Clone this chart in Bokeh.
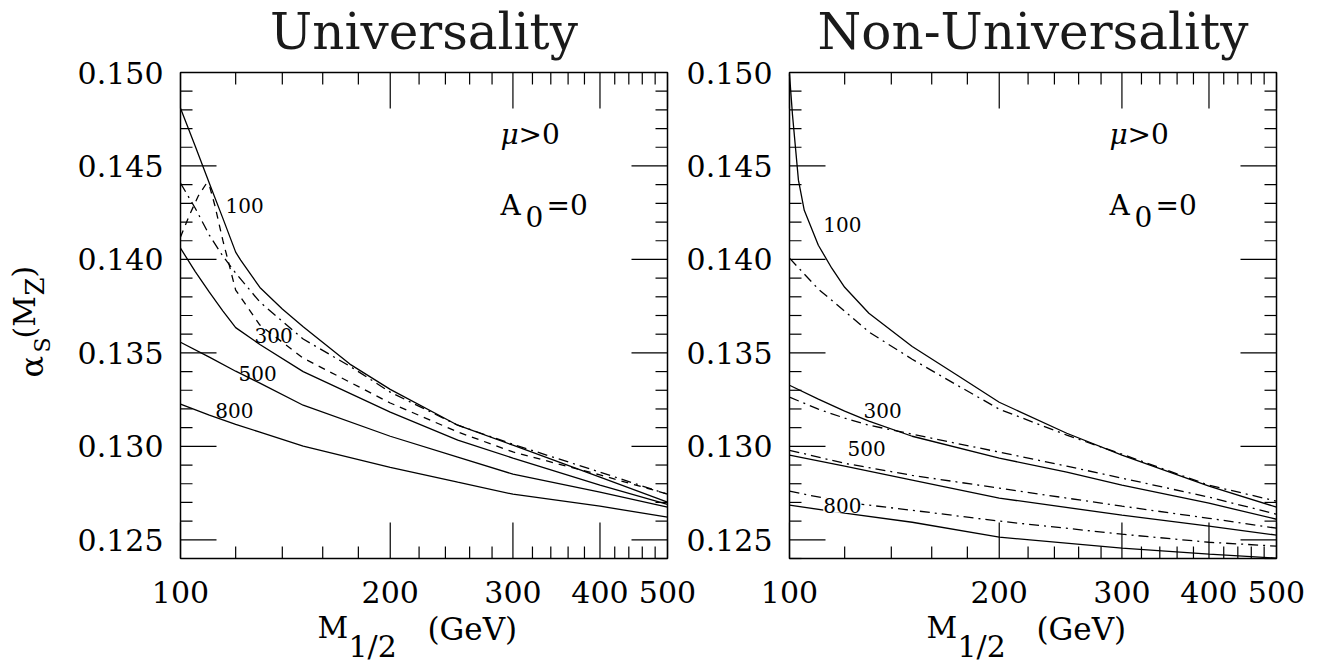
from math import pi
from bokeh.plotting import figure
from bokeh.models import Range1d, LogScale, Label
from bokeh.core.properties import value
from bokeh.embed import file_html
from bokeh.resources import INLINE

FONT = "DejaVu Serif"

# ---------------- axes: ticks and tick labels ----------------
X_MAJOR = [100, 200, 300, 400, 500]
X_LABELS = ["100", "200", "300", "400", "500"]
X_MINOR = [120, 140, 160, 180, 220, 240, 260, 280, 320, 340, 360, 380, 420, 440, 460, 480]
Y_MAJOR = [0.125, 0.130, 0.135, 0.140, 0.145, 0.150]
Y_LABELS = ["0.125", "0.130", "0.135", "0.140", "0.145", "0.150"]
Y_MINOR = [0.124, 0.126, 0.127, 0.128, 0.129, 0.131, 0.132, 0.133, 0.134,
           0.136, 0.137, 0.138, 0.139, 0.141, 0.142, 0.143, 0.144,
           0.146, 0.147, 0.148, 0.149]
X_LIM = (100, 500)
Y_LIM = (0.124, 0.150)

# ---------------- Universality (left) ----------------
u_x_100 = [100, 105, 110, 115, 120, 122, 130, 140, 150, 175, 200, 250, 300, 400, 500]
u_solid_100 = [0.14809, 0.14606, 0.14408, 0.14221, 0.14039, 0.13996, 0.13850, 0.13735,
               0.13640, 0.13440, 0.13305, 0.13113, 0.13006, 0.12835, 0.12702]
u_x_300 = [100, 105, 110, 115, 120, 130, 150, 200, 250, 300, 400, 500]
u_solid_300 = [0.14060, 0.13935, 0.13825, 0.13725, 0.13635, 0.13545, 0.13400, 0.13183,
               0.13033, 0.12937, 0.12792, 0.12690]
u_x = [100, 110, 120, 130, 150, 200, 250, 300, 400, 500]
u_solid_500 = [0.13557, 0.13477, 0.13402, 0.13338, 0.13220, 0.13054, 0.12942, 0.12851, 0.12755, 0.12675]
u_solid_800 = [0.13226, 0.13167, 0.13118, 0.13076, 0.13001, 0.12888, 0.12808, 0.12744, 0.12680, 0.12621]
u_x_dash = [100, 103, 106, 109, 110, 112, 115, 120, 130, 150, 200, 250, 300, 400, 500]
u_dash_100 = [0.14120, 0.14237, 0.14338, 0.14408, 0.14397, 0.14290, 0.14103, 0.13836,
              0.13649, 0.13472, 0.13232, 0.13077, 0.12970, 0.12847, 0.12745]
u_x_dd = [100, 105, 110, 115, 120, 130, 150, 175, 200, 250, 300, 400, 500]
u_dashdot_100 = [0.14408, 0.14274, 0.14130, 0.14018, 0.13927, 0.13772, 0.13574, 0.13429,
                 0.13290, 0.13113, 0.13011, 0.12862, 0.12744]

# ---------------- Non-Universality (right) ----------------
n_x_100 = [100, 101, 103, 105, 110, 115, 120, 130, 150, 175, 200, 250, 300, 400, 500]
n_solid_100 = [0.14990, 0.14772, 0.14424, 0.14263, 0.14076, 0.13953, 0.13851, 0.13712,
               0.13534, 0.13375, 0.13236, 0.13070, 0.12953, 0.12787, 0.12675]
n_x_dd100 = [100, 110, 120, 130, 150, 175, 200, 250, 300, 400, 500]
n_dashdot_100 = [0.14007, 0.13841, 0.13723, 0.13612, 0.13466, 0.13322, 0.13199, 0.13060,
                 0.12958, 0.12792, 0.12707]
n_x_300 = [100, 110, 120, 130, 150, 200, 250, 300, 400, 500]
n_solid_300 = [0.13327, 0.13253, 0.13188, 0.13135, 0.13054, 0.12937, 0.12862, 0.12792, 0.12696, 0.12610]
n_dashdot_300 = [0.13263, 0.13199, 0.13151, 0.13113, 0.13065, 0.12969, 0.12894, 0.12830, 0.12728, 0.12637]
n_x = [100, 120, 150, 200, 300, 400, 500]
n_solid_500 = [0.12953, 0.12894, 0.12819, 0.12723, 0.12632, 0.12573, 0.12525]
n_dashdot_500 = [0.12979, 0.12909, 0.12845, 0.12776, 0.12680, 0.12615, 0.12562]
n_solid_800 = [0.12685, 0.12643, 0.12594, 0.12514, 0.12455, 0.12423, 0.12402]
n_dashdot_800 = [0.12760, 0.12701, 0.12658, 0.12600, 0.12530, 0.12487, 0.12466]

# curve labels (m0 values) placed beside curves: (text, x, y)
u_labels = [("100", 123.6, 0.1429), ("300", 136.0, 0.13595), ("500", 129.0, 0.13391), ("800", 119.5, 0.13193)]
n_labels = [("100", 119.1, 0.14188), ("300", 136.0, 0.13193), ("500", 129.0, 0.1299), ("800", 119.1, 0.12685)]

# ---------------- layout (pixels) ----------------
W, H = 1320, 669
FRAME_W, FRAME_H = 487, 486
LEFT_X0, RIGHT_X0, TOP_Y = 180, 789, 72
PX_PER_DEC = FRAME_W / 0.69897          # 100..500 spans log10(5) decades
PX_PER_Y = FRAME_H / (Y_LIM[1] - Y_LIM[0])
BOTTOM_Y = TOP_Y + FRAME_H

x_left = Range1d(100 * 10 ** (-LEFT_X0 / PX_PER_DEC), 100 * 10 ** ((W - LEFT_X0) / PX_PER_DEC))
x_right = Range1d(100 * 10 ** (-RIGHT_X0 / PX_PER_DEC), 100 * 10 ** ((W - RIGHT_X0) / PX_PER_DEC))
y_rng = Range1d(Y_LIM[0] - (H - BOTTOM_Y) / PX_PER_Y, Y_LIM[1] + TOP_Y / PX_PER_Y)

p = figure(width=W, height=H, x_axis_type="log", x_range=x_left, y_range=y_rng,
           x_axis_location=None, y_axis_location=None,
           output_backend="svg", toolbar_location=None,
           min_border=0, min_border_left=0, min_border_right=0, min_border_top=0, min_border_bottom=0)
p.extra_x_ranges = {"right": x_right}
p.extra_x_scales = {"right": LogScale()}
p.outline_line_color = None
p.xgrid.visible = False
p.ygrid.visible = False
p.background_fill_color = "white"
p.border_fill_color = "white"

DASH = "7 6"
DASHDOT = "10 5 2 5"
LW = 1.3


def draw_frame(rname):
    kw = {} if rname is None else {"x_range_name": rname}
    p.quad(left=[X_LIM[0]], right=[X_LIM[1]], bottom=[Y_LIM[0]], top=[Y_LIM[1]],
           fill_color=None, line_color="black", line_width=1.5, **kw)
    nx, nmx = len(X_MAJOR), len(X_MINOR)
    ny, nmy = len(Y_MAJOR), len(Y_MINOR)
    tick = dict(line_color="black", line_width=1.2, length_units="screen", **kw)
    # bottom / top ticks
    p.ray(x=X_MAJOR, y=[Y_LIM[0]] * nx, length=36, angle=pi / 2, **tick)
    p.ray(x=X_MINOR, y=[Y_LIM[0]] * nmx, length=12, angle=pi / 2, **tick)
    p.ray(x=X_MAJOR, y=[Y_LIM[1]] * nx, length=36, angle=-pi / 2, **tick)
    p.ray(x=X_MINOR, y=[Y_LIM[1]] * nmx, length=12, angle=-pi / 2, **tick)
    # left / right ticks
    p.ray(x=[X_LIM[0]] * ny, y=Y_MAJOR, length=36, angle=0, **tick)
    p.ray(x=[X_LIM[0]] * nmy, y=Y_MINOR, length=12, angle=0, **tick)
    p.ray(x=[X_LIM[1]] * ny, y=Y_MAJOR, length=36, angle=pi, **tick)
    p.ray(x=[X_LIM[1]] * nmy, y=Y_MINOR, length=12, angle=pi, **tick)
    # tick labels
    p.text(x=X_MAJOR, y=[Y_LIM[0]] * nx, text=X_LABELS, y_offset=33,
           text_align="center", text_baseline="middle", text_font=value(FONT),
           text_font_size="30px", text_color="black", **kw)
    p.text(x=[X_LIM[0]] * ny, y=Y_MAJOR, text=Y_LABELS, x_offset=-17,
           text_align="right", text_baseline="middle", text_font=value(FONT),
           text_font_size="30px", text_color="black", **kw)


def page_label(text, px, py, size, **extra):
    # (px, py): page position of the text's vertical middle
    extra.setdefault("text_color", "black")
    p.add_layout(Label(x=px, y=H - py, x_units="screen", y_units="screen", text=text,
                       text_font=FONT, text_font_size=size,
                       text_baseline="middle", **extra))


def panel_texts(x0, title):
    page_label(title, x0 + FRAME_W / 2, 31, "50px", text_align="center", text_color="#1a1a1a")
    # x axis label  M_{1/2} (GeV)
    page_label("M", x0 + 137, 627, "30px")
    page_label("1/2", x0 + 168, 646, "30px")
    page_label("(GeV)", x0 + 247, 628, "31px")
    # mu > 0, A_0 = 0
    page_label("μ", x0 + 320, 134, "28px", text_font_style="italic")
    page_label(">0", x0 + 338, 134, "28px")
    page_label("A", x0 + 320, 205, "28px")
    page_label("0", x0 + 345, 216, "28px")
    page_label("=0", x0 + 366, 205, "28px")


draw_frame(None)
draw_frame("right")
panel_texts(LEFT_X0, "Universality")
panel_texts(RIGHT_X0, "Non-Universality")

# y axis label alpha_S(M_Z), rotated, on the left panel only
for txt, bx, by, fs in [("α", 31, 377, "32px"), ("S", 42, 352, "22px"), ("(M", 24, 338, "30px"),
                        ("Z", 34, 295, "26px"), (")", 23, 277, "30px")]:
    page_label(txt, bx, by, fs, angle=pi / 2, text_align="left")

# ---------------- curves ----------------
p.line(u_x_100, u_solid_100, line_color="black", line_width=LW)
p.line(u_x_300, u_solid_300, line_color="black", line_width=LW)
p.line(u_x, u_solid_500, line_color="black", line_width=LW)
p.line(u_x, u_solid_800, line_color="black", line_width=LW)
p.line(u_x_dash, u_dash_100, line_color="black", line_width=LW, line_dash=DASH)
p.line(u_x_dd, u_dashdot_100, line_color="black", line_width=LW, line_dash=DASHDOT)

R = dict(x_range_name="right", line_color="black", line_width=LW)
p.line(n_x_100, n_solid_100, **R)
p.line(n_x_dd100, n_dashdot_100, line_dash=DASHDOT, **R)
p.line(n_x_300, n_solid_300, **R)
p.line(n_x_300, n_dashdot_300, line_dash=DASHDOT, **R)
p.line(n_x, n_solid_500, **R)
p.line(n_x, n_dashdot_500, line_dash=DASHDOT, **R)
p.line(n_x, n_solid_800, **R)
p.line(n_x, n_dashdot_800, line_dash=DASHDOT, **R)

for txt, x, y in u_labels:
    p.add_layout(Label(x=x, y=y, text=txt, text_font=FONT, text_font_size="20px",
                       text_color="black", text_align="center", text_baseline="middle"))
for txt, x, y in n_labels:
    p.add_layout(Label(x=x, y=y, x_range_name="right", text=txt, text_font=FONT,
                       text_font_size="20px", text_color="black",
                       text_align="center", text_baseline="middle",
                       background_fill_color="white" if txt == "800" else None))

open("out.html", "w").write(file_html(p, INLINE))
